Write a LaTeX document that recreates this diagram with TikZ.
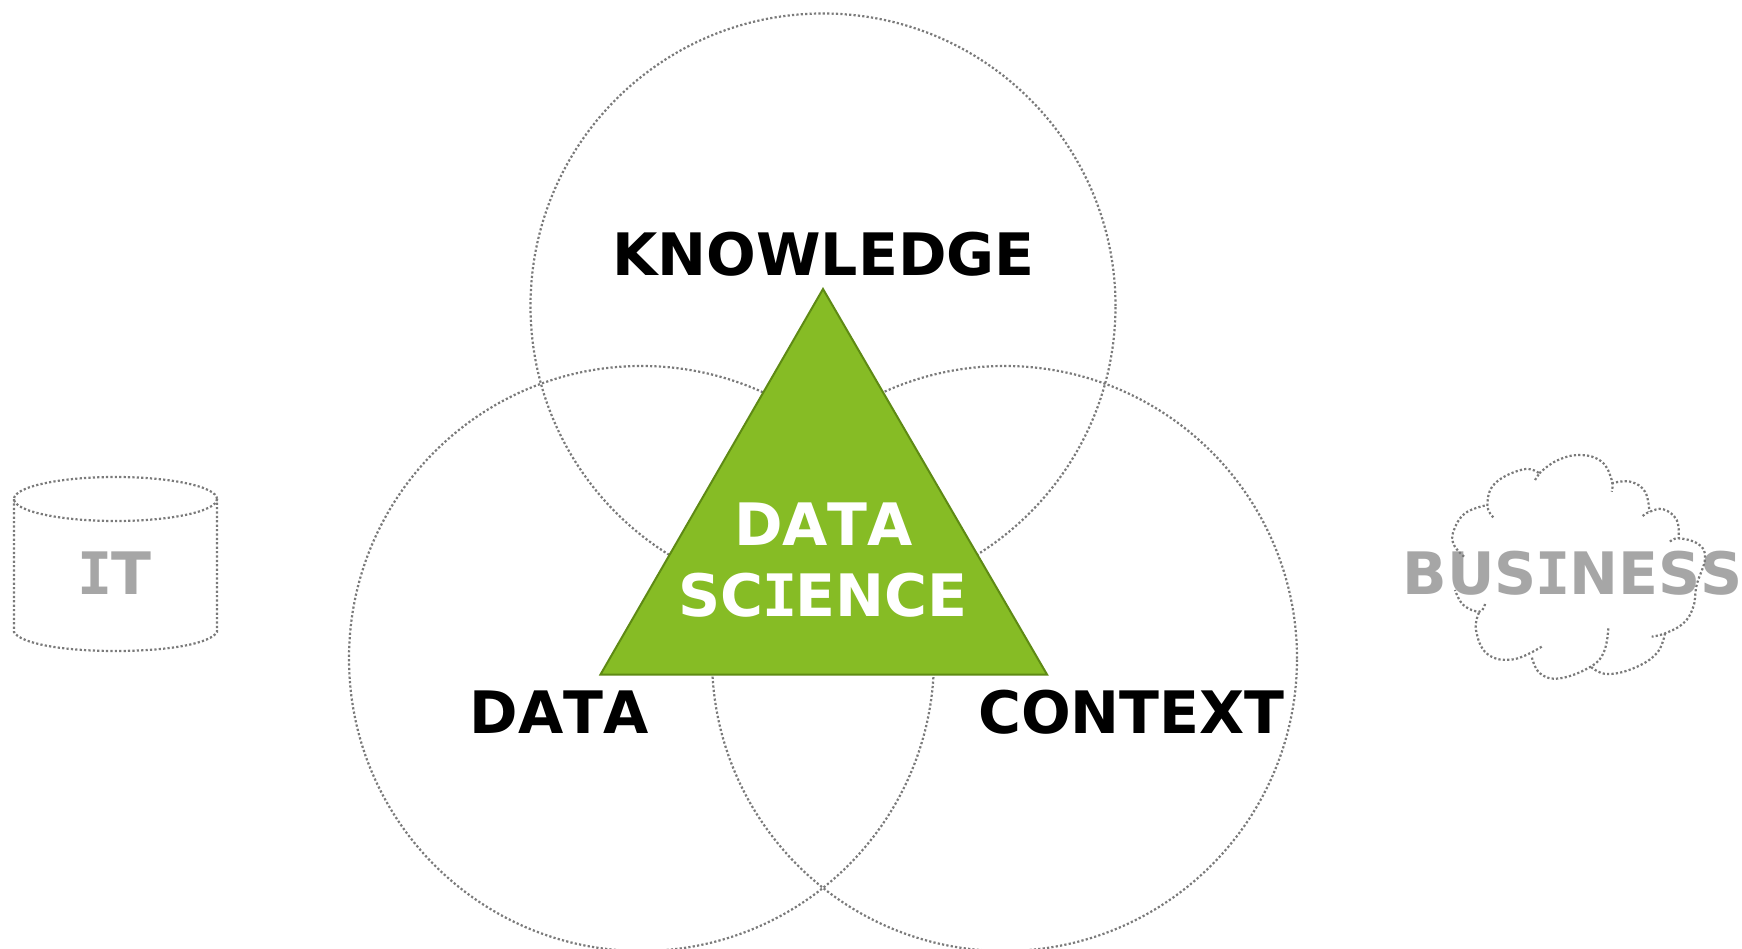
\documentclass[tikz,border=0pt]{standalone}
\usepackage{fontspec}
\setmainfont{DejaVu Sans}[Kerning=Off]
\newfontfamily\serifimono{DejaVu Sans Mono}
\newcommand{\vI}{\kern-1.5pt{\serifimono I}\kern-1.5pt}
\usetikzlibrary{calc}
\definecolor{tgreen}{HTML}{86BC25}
\definecolor{tedge}{HTML}{5E8A14}
\definecolor{dotc}{HTML}{7A7A7A}
\definecolor{lightlab}{HTML}{A6A6A6}
\tikzset{
  dots/.style={draw=dotc,line width=2.2pt,dash pattern=on 2.2pt off 2.2pt},
  venn/.style={circle,dots,minimum size=585pt,inner sep=0pt,outer sep=0pt},
  biglab/.style={font=\fontsize{58.5}{58.5}\selectfont\bfseries,inner sep=0pt,anchor=base},
}
\begin{document}
\begin{tikzpicture}[x=1pt,y=-1pt]
\useasboundingbox (0,0) rectangle (1742,949);
\fill[white] (0,0) rectangle (1742,949);
% Venn circles
\node[venn] (know) at (823,306) {};
\node[venn] (data) at (641.5,658.5) {};
\node[venn] (ctx) at (1004.5,658.5) {};
% triangle
\coordinate (apex) at (823,289);
\coordinate (bl) at (600.5,674.5);
\coordinate (br) at (1047,674.5);
\draw[fill=tgreen,draw=tedge,line width=2pt,line join=miter] (apex) -- (br) -- (bl) -- cycle;
% labels
\node[biglab,text=black] (lknow) at (823.5,276) {KNOWLEDGE};
\node[biglab,text=black] (ldata) at (559,733) {DATA};
\node[biglab,text=black] (lctx) at (1131.5,733) {CONTEXT};
\node[biglab,text=white] (ds1) at (823.5,545) {DATA};
\node[biglab,text=white] (ds2) at (823,616) {SC\vI ENCE};
\node[biglab,text=lightlab] (lit) at (115.5,594) {\vI T};
\node[biglab,text=lightlab] (lbus) at (1572.5,594) {BUS\vI NESS};
% cylinder
\draw[dots] (115.5,499) ellipse [x radius=101.5,y radius=22];
\draw[dots] (14,499) -- (14,632) .. controls (20,643) and (60,651) .. (115.5,651) .. controls (171,651) and (211,643) .. (217,632) -- (217,499);
% cloud
\begin{scope}[shift={(1400,430)},x=1pt/3,y=-1pt/3]
\draw[dots] plot[smooth,tension=.7] coordinates {(192,380) (162,345) (160,305) (195,250) (262,225)};
\draw[dots] plot[smooth,tension=.7] coordinates {(280,262) (262,225) (285,160) (370,118) (418,130)};
\draw[dots] (405,150) -- (418,130);
\draw[dots] plot[smooth,tension=.7] coordinates {(418,130) (470,92) (540,75) (605,95) (635,150) (635,185)};
\draw[dots] plot[smooth,tension=.7] coordinates {(635,160) (690,155) (735,185) (748,245)};
\draw[dots] plot[smooth,tension=.7] coordinates {(728,258) (750,245) (790,238) (830,270) (836,325)};
\draw[dots] plot[smooth,tension=.7] coordinates {(810,335) (836,325) (895,342) (915,385) (890,465) (880,530) (850,580) (795,610) (755,620)};
\draw[dots] plot[smooth,tension=.7] coordinates {(795,610) (770,670) (700,715) (620,732) (572,710)};
\draw[dots] plot[smooth,tension=.7] coordinates {(625,595) (612,665) (572,710) (480,745) (420,730) (395,680)};
\draw[dots] plot[smooth,tension=.7] coordinates {(425,650) (340,688) (262,672) (228,600) (238,545)};
\draw[dots] plot[smooth,tension=.7] coordinates {(255,522) (238,545) (190,525) (165,480)};
\end{scope}
\end{tikzpicture}
\end{document}
